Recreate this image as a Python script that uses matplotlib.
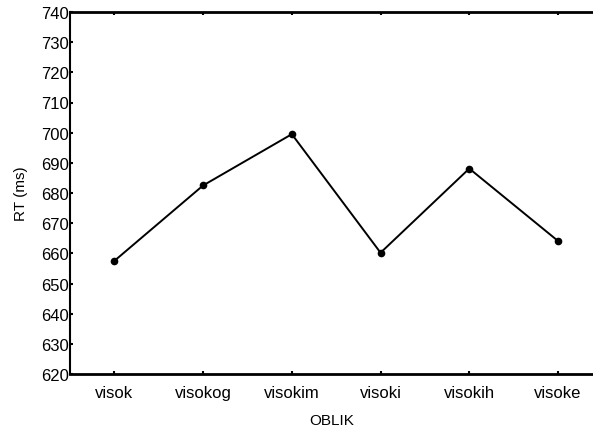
import matplotlib
matplotlib.use("Agg")
import matplotlib.pyplot as plt

categories = ["visok", "visokog", "visokim", "visoki", "visokih", "visoke"]
rt_values = [657.5, 682.5, 699.5, 660.2, 688.1, 664.1]
y_ticks = list(range(620, 741, 10))

plt.rcParams['font.family'] = ['Liberation Sans', 'DejaVu Sans']

fig = plt.figure(figsize=(5.93, 4.27), dpi=100)
ax = fig.add_axes([70 / 593, 1 - 375 / 427, 1 - 70 / 593, (375 - 13) / 427])

x = list(range(len(categories)))
ax.plot(x, rt_values, '-', color='black', lw=1.4, marker='o', ms=4.5)

ax.set_xlim(-0.5, (593 - 114) / 88.8)
ax.set_ylim(620, 740)
ax.set_yticks(y_ticks)
ax.set_xticks(x)
ax.set_xticklabels(categories)

ax.spines['right'].set_visible(False)
for side in ('top', 'bottom'):
    ax.spines[side].set_linewidth(2)
ax.spines['left'].set_linewidth(1.5)

ax.tick_params(axis='both', direction='in', length=2.5, width=1.5, labelsize=12,
               colors='black', pad=1)
ax.tick_params(axis='x', top=True, pad=8)

ax.set_ylabel("RT (ms)", fontsize=11, labelpad=9)
ax.set_xlabel("OBLIK", fontsize=11, labelpad=9)

fig.savefig("out.png", dpi=100)
